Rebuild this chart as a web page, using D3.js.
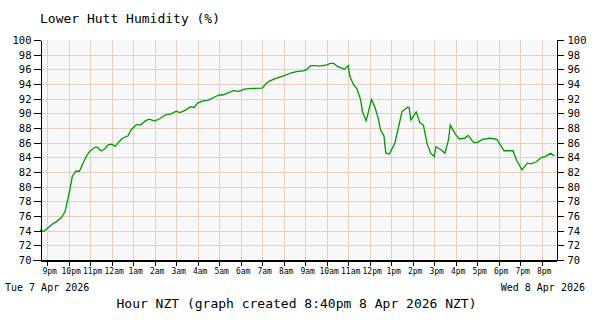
<!DOCTYPE html>
<html>
<head>
<meta charset="utf-8">
<script src="https://cdn.jsdelivr.net/npm/d3@7"></script>
<style>
  html, body { margin: 0; padding: 0; background: #fff; }
  svg text { font-family: "DejaVu Sans Mono", monospace; fill: #000; }
</style>
</head>
<body>
<div id="chart"></div>
<script>
// Readings, Tue 7 Apr 20:40 → Wed 8 Apr 20:40 (NZT); times wrap past midnight
const times = [
  '20:40', '20:50', '21:00', '21:15', '21:25', '21:40', '21:50', '21:55', '22:05', '22:10',
  '22:20', '22:30', '22:40', '22:50', '23:00', '23:15', '23:20', '23:30', '23:40', '23:50',
  '00:00', '00:10', '00:20', '00:30', '00:45', '00:55', '01:10', '01:20', '01:35', '01:45',
  '02:00', '02:15', '02:30', '02:45', '03:00', '03:10', '03:25', '03:40', '03:50', '04:00',
  '04:15', '04:30', '04:50', '05:00', '05:10', '05:20', '05:40', '05:55', '06:10', '06:35',
  '07:00', '07:10', '07:20', '07:40', '08:00', '08:20', '08:35', '08:55', '09:05', '09:15',
  '09:30', '09:40', '10:00', '10:10', '10:20', '10:30', '10:40', '10:50', '11:00', '11:05',
  '11:15', '11:25', '11:35', '11:40', '11:50', '11:55', '12:05', '12:15', '12:25', '12:30',
  '12:40', '12:45', '12:55', '13:10', '13:20', '13:30', '13:45', '13:50', '13:55', '14:10',
  '14:20', '14:30', '14:40', '14:50', '15:00', '15:05', '15:20', '15:30', '15:40', '15:45',
  '16:00', '16:10', '16:25', '16:35', '16:50', '17:00', '17:15', '17:35', '17:55', '18:15',
  '18:40', '18:50', '19:05', '19:20', '19:30', '19:45', '20:00', '20:10', '20:25', '20:35'
];
const humidity = [
  74.1, 73.9, 74.3, 74.9, 75.2, 75.8, 76.6, 77.7, 80.0, 81.4,
  82.1, 82.1, 83.2, 84.2, 84.9, 85.4, 85.4, 84.9, 85.1, 85.7,
  85.8, 85.5, 86.1, 86.6, 86.9, 87.8, 88.5, 88.4, 89.0, 89.2,
  88.95, 89.3, 89.8, 89.9, 90.3, 90.1, 90.4, 90.9, 90.8, 91.4,
  91.7, 91.8, 92.3, 92.5, 92.5, 92.7, 93.1, 93.0, 93.3, 93.4,
  93.45, 94.0, 94.4, 94.8, 95.1, 95.5, 95.7, 95.8, 96.0, 96.5,
  96.5, 96.45, 96.6, 96.8, 96.8, 96.4, 96.2, 96.0, 96.5, 95.0,
  93.9, 93.3, 91.8, 90.2, 89.0, 89.9, 91.9, 90.8, 89.1, 87.8,
  86.9, 84.6, 84.45, 85.9, 88.0, 90.2, 90.8, 90.8, 89.1, 90.2,
  88.7, 88.4, 85.9, 84.6, 84.1, 85.45, 85.0, 84.55, 86.4, 88.4,
  87.1, 86.5, 86.6, 87.0, 86.0, 86.0, 86.45, 86.6, 86.45, 84.9,
  84.9, 83.6, 82.3, 83.2, 83.1, 83.4, 84.0, 84.1, 84.55, 84.2
];
const yTicks = d3.range(70, 101, 2);
const hourLabels = ['9pm', '10pm', '11pm', '12am', '1am', '2am', '3am', '4am', '5am', '6am', '7am', '8am',
                    '9am', '10am', '11am', '12pm', '1pm', '2pm', '3pm', '4pm', '5pm', '6pm', '7pm', '8pm'];

const title = 'Lower Hutt Humidity (%)';
const xTitle = 'Hour NZT (graph created 8:40pm 8 Apr 2026 NZT)';
const startLabel = 'Tue 7 Apr 2026';
const endLabel = 'Wed 8 Apr 2026';

const W = 600, H = 320;
const plot = { left: 40, right: 556, top: 40, bottom: 260 };

const start = new Date(2026, 3, 7, 20, 40);
const end = new Date(2026, 3, 8, 20, 40);

// parse "HH:MM" onto the right day: anything before 20:40 is the next day
function toDate(s) {
  const [h, m] = s.split(':').map(Number);
  const d = new Date(2026, 3, 7, h, m);
  if (d < start) d.setDate(8);
  return d;
}
const data = times.map((t, i) => ({ t: toDate(t), v: humidity[i] }));
const hours = hourLabels.map((_, i) => new Date(2026, 3, 7, 21 + i, 0));

const x = d3.scaleTime().domain([start, end]).range([plot.left, plot.right]);
const y = d3.scaleLinear().domain([70, 100]).range([plot.bottom, plot.top]);

const svg = d3.select('#chart').append('svg')
  .attr('width', W).attr('height', H)
  .attr('shape-rendering', 'crispEdges');

svg.append('rect')
  .attr('x', plot.left).attr('y', plot.top)
  .attr('width', plot.right - plot.left).attr('height', plot.bottom - plot.top)
  .attr('fill', '#f8f8f8');

// grid
const grid = svg.append('g').attr('stroke', '#e6d0c4').attr('stroke-width', 1);
grid.selectAll('line.h')
  .data(yTicks.filter(v => v > 70 && v < 100))
  .join('line').attr('class', 'h')
  .attr('x1', plot.left).attr('x2', plot.right)
  .attr('y1', d => Math.round(y(d)) + 0.5).attr('y2', d => Math.round(y(d)) + 0.5);
grid.selectAll('line.v')
  .data(hours)
  .join('line').attr('class', 'v')
  .attr('y1', plot.top).attr('y2', plot.bottom)
  .attr('x1', d => Math.round(x(d)) + 0.5).attr('x2', d => Math.round(x(d)) + 0.5);

// humidity line
svg.append('path')
  .datum(data)
  .attr('fill', 'none')
  .attr('stroke', '#009900')
  .attr('stroke-width', 1.3)
  .attr('shape-rendering', 'auto')
  .attr('d', d3.line().x(d => x(d.t)).y(d => y(d.v)));

// axes
const axisStyle = g => {
  g.select('.domain').attr('stroke', '#000');
  g.selectAll('.tick line').attr('stroke', '#000');
  g.selectAll('.tick text').attr('fill', '#000').style('font-family', '"DejaVu Sans Mono", monospace');
};

svg.append('g')
  .attr('transform', `translate(${plot.left + 0.5},0)`)
  .call(d3.axisLeft(y).tickValues(yTicks).tickSize(7).tickPadding(2).tickSizeOuter(0))
  .call(axisStyle)
  .call(g => g.selectAll('.tick text').style('font-size', '10.5px'));

svg.append('g')
  .attr('transform', `translate(${plot.right + 0.5},0)`)
  .call(d3.axisRight(y).tickValues(yTicks).tickSize(7).tickPadding(4).tickSizeOuter(0))
  .call(axisStyle)
  .call(g => g.selectAll('.tick text').style('font-size', '10.5px'));

svg.append('g')
  .attr('transform', `translate(0,${plot.bottom + 0.5})`)
  .call(d3.axisBottom(x).tickValues(hours).tickFormat((d, i) => hourLabels[i])
    .tickSize(5).tickPadding(3).tickSizeOuter(0))
  .call(axisStyle)
  .call(g => g.selectAll('.tick text').style('font-size', '8px').attr('dx', 2));

// line from the 70 tick along the bottom edge
svg.append('line')
  .attr('x1', plot.left - 7).attr('x2', plot.right + 7)
  .attr('y1', plot.bottom + 0.5).attr('y2', plot.bottom + 0.5)
  .attr('stroke', '#000');

// texts
svg.append('text').attr('x', 40).attr('y', 23)
  .style('font-size', '13px').text(title);
svg.append('text').attr('x', 5).attr('y', 291)
  .style('font-size', '10px').text(startLabel);
svg.append('text').attr('x', 585).attr('y', 291).attr('text-anchor', 'end')
  .style('font-size', '10px').text(endLabel);
svg.append('text').attr('x', (113 + 480) / 2).attr('y', 308).attr('text-anchor', 'middle')
  .style('font-size', '13px').text(xTitle);
</script>
</body>
</html>
